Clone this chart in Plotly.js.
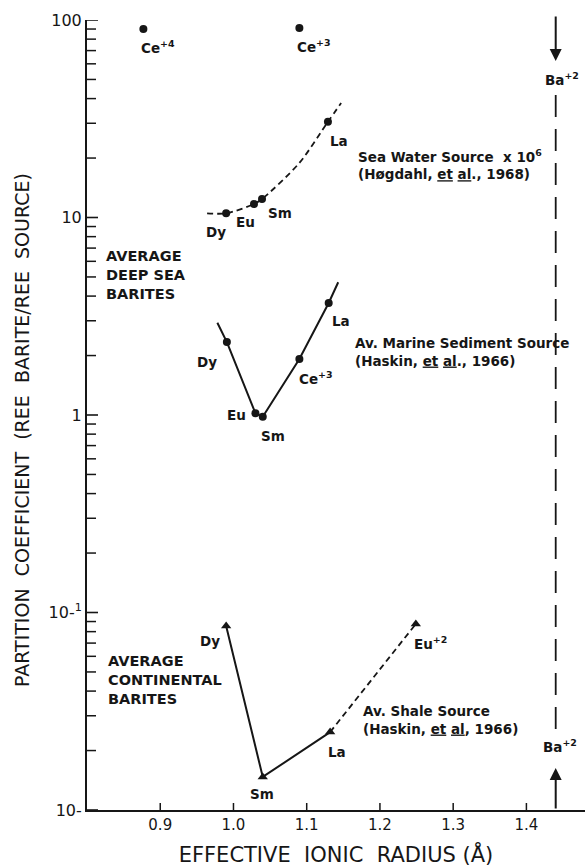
<!DOCTYPE html>
<html>
<head>
<meta charset="utf-8">
<script src="https://cdn.plot.ly/plotly-3.0.1.min.js"></script>
<style>
  html, body { margin: 0; padding: 0; background: #fff; }
  #chart { width: 588px; height: 868px; }
</style>
</head>
<body>
<div id="chart"></div>
<script>
// Rare-earth partition coefficients between barite and source, vs. effective ionic radius.

// Sea water source (x 10^6), dashed curve with dots
const seaLabels = ['Dy', 'Eu', 'Sm', 'La'];
const seaX = [0.990, 1.028, 1.039, 1.129];
const seaY = [10.5, 11.7, 12.4, 30.5];
const seaCurveX = [0.964, 0.990, 1.028, 1.039, 1.090, 1.129, 1.147];
const seaCurveY = [10.5, 10.5, 11.7, 12.4, 18.9, 30.5, 38.0];

// Cerium points above the sea water curve
const ceLabels = ['Ce<sup>+4</sup>', 'Ce<sup>+3</sup>'];
const ceX = [0.877, 1.090];
const ceY = [90, 91];

// Average marine sediment source, solid line with dots
const marLabels = ['Dy', 'Eu', 'Sm', 'Ce<sup>+3</sup>', 'La'];
const marX = [0.991, 1.030, 1.040, 1.090, 1.130];
const marY = [2.34, 1.02, 0.98, 1.92, 3.69];
const marLineX = [0.978, 0.991, 1.030, 1.040, 1.090, 1.130, 1.143];
const marLineY = [2.93, 2.34, 1.02, 0.98, 1.92, 3.69, 4.70];

// Average shale source, triangles
const shaLabels = ['Dy', 'Sm', 'La', 'Eu<sup>+2</sup>'];
const shaX = [0.990, 1.040, 1.132, 1.249];
const shaY = [0.0855, 0.0147, 0.0248, 0.0875];

// Ba+2 reference radius
const baX = 1.44;
const baLineY = [41.7, 0.024];
const baTopArrowY = 62;
const baBottomArrowY = 0.0163;

// Axis ticks
const xTicks = [0.9, 1.0, 1.1, 1.2, 1.3, 1.4];
const xTickText = ['0.9', '1.0', '1.1', '1.2', '1.3', '1.4'];
const yTicks = [0.01, 0.1, 1, 10, 100];
const yTickText = ['10-', '10-<sup>1</sup>', '1', '10', '100'];
const yMinor = [];
[0.01, 0.1, 1, 10].forEach(d => { for (let k = 2; k <= 9; k++) yMinor.push(d * k); });

const INK = '#161616';
const FONT = 'DejaVu Sans, sans-serif';
const PLOT_W = 498, PLOT_H = 790;

const traces = [
  { x: seaCurveX, y: seaCurveY, mode: 'lines', line: { color: INK, width: 1.8, dash: '6px,4px', shape: 'spline', smoothing: 0.8 } },
  { x: seaX, y: seaY, mode: 'markers', marker: { color: INK, size: 8, symbol: 'circle' } },
  { x: ceX, y: ceY, mode: 'markers', marker: { color: INK, size: 8, symbol: 'circle' } },
  { x: marLineX, y: marLineY, mode: 'lines', line: { color: INK, width: 2 } },
  { x: marX, y: marY, mode: 'markers', marker: { color: INK, size: 8, symbol: 'circle' } },
  { x: shaX.slice(0, 3), y: shaY.slice(0, 3), mode: 'lines', line: { color: INK, width: 2 } },
  { x: shaX.slice(2), y: shaY.slice(2), mode: 'lines', line: { color: INK, width: 1.8, dash: '6px,4px' } },
  { x: shaX, y: shaY, mode: 'markers', marker: { color: INK, size: 9, symbol: 'triangle-up' } },
  { x: [baX, baX], y: baLineY, mode: 'lines', line: { color: INK, width: 1.8, dash: '22px,12px' } }
].map(t => Object.assign({ showlegend: false, hoverinfo: 'skip' }, t));

// Tick marks drawn as short lines on the axes (shapes take data values on the log axis)
const shapes = [];
yTicks.forEach(v => shapes.push({
  type: 'line', xref: 'paper', yref: 'y', x0: -2 / PLOT_W, x1: 11 / PLOT_W,
  y0: v, y1: v, line: { color: INK, width: 1.6 }, layer: 'above'
}));
yMinor.forEach(v => shapes.push({
  type: 'line', xref: 'paper', yref: 'y', x0: 0, x1: 9 / PLOT_W,
  y0: v, y1: v, line: { color: INK, width: 1.5 }, layer: 'above'
}));
xTicks.forEach(v => shapes.push({
  type: 'line', xref: 'x', yref: 'paper', x0: v, x1: v,
  y0: 0, y1: 7 / PLOT_H, line: { color: INK, width: 1.5 }, layer: 'above'
}));

const annotations = [];
const LABEL_FONT = { family: FONT, size: 13.5, color: INK, weight: 'bold' };

// Point labels with pixel offsets from their marks
function pointLabels(labels, xs, ys, shifts) {
  labels.forEach((txt, i) => {
    annotations.push({
      x: xs[i], y: Math.log10(ys[i]), xref: 'x', yref: 'y', text: txt, showarrow: false,
      xshift: shifts[i][0], yshift: shifts[i][1], font: LABEL_FONT
    });
  });
}
pointLabels(ceLabels, ceX, ceY, [[15, -18], [15, -18]]);
pointLabels(seaLabels, seaX, seaY, [[-10, -19], [-8, -18], [18, -14], [11, -19]]);
pointLabels(marLabels, marX, marY, [[-20, -20], [-19, -2], [10, -19], [17, -19], [12, -18]]);
pointLabels(shaLabels, shaX, shaY, [[-16, -15], [-1, -17], [7, -20], [15, -19]]);

// Descriptive text blocks (paper coordinates)
function block(text, px, py, size) {
  annotations.push({
    x: (px - 87) / PLOT_W, y: (810 - py) / PLOT_H, xref: 'paper', yref: 'paper',
    xanchor: 'left', yanchor: 'middle', align: 'left', showarrow: false,
    text: text, font: { family: FONT, size: size, color: INK, weight: 'bold' }
  });
}
block('Sea Water Source  x 10<sup>6</sup><br>(Høgdahl, <u>et</u> <u>al</u>., 1968)', 356, 165, 13.5);
block('Av. Marine Sediment Source<br>(Haskin, <u>et</u> <u>al</u>., 1966)', 353, 352, 13.5);
block('Av. Shale Source<br>(Haskin, <u>et</u> <u>al</u>, 1966)', 361, 720, 13.5);
block('AVERAGE<br>DEEP SEA<br>BARITES', 104, 275, 14.5);
block('AVERAGE<br>CONTINENTAL<br>BARITES', 106, 680, 14.5);

// Vertical axis title
annotations.push({
  x: (22 - 87) / PLOT_W, y: (810 - 430) / PLOT_H, xref: 'paper', yref: 'paper',
  xanchor: 'center', yanchor: 'middle', textangle: -90, showarrow: false,
  text: 'PARTITION  COEFFICIENT  (REE  BARITE/REE  SOURCE)',
  font: { family: FONT, size: 19, color: INK }
});

// Ba+2 arrows and labels
annotations.push({
  x: baX, y: Math.log10(baTopArrowY), xref: 'x', yref: 'y', text: '', showarrow: true,
  ax: 0, ay: -46, arrowhead: 2, arrowsize: 1.2, arrowwidth: 2, arrowcolor: INK
});
annotations.push({
  x: baX, y: Math.log10(baBottomArrowY), xref: 'x', yref: 'y', text: '', showarrow: true,
  ax: 0, ay: 42, arrowhead: 2, arrowsize: 1.2, arrowwidth: 2, arrowcolor: INK
});
annotations.push({
  x: baX, y: Math.log10(baTopArrowY), xref: 'x', yref: 'y', text: 'Ba<sup>+2</sup>', showarrow: false,
  xshift: 6, yshift: -18, font: LABEL_FONT
});
annotations.push({
  x: baX, y: Math.log10(baBottomArrowY), xref: 'x', yref: 'y', text: 'Ba<sup>+2</sup>', showarrow: false,
  xshift: 4, yshift: 22, font: LABEL_FONT
});

const layout = {
  width: 588, height: 868,
  margin: { l: 87, r: 3, t: 20, b: 58 },
  paper_bgcolor: '#fff', plot_bgcolor: '#fff',
  font: { family: FONT, color: INK },
  xaxis: {
    range: [0.8, 1.48], showgrid: false, zeroline: false,
    showline: true, linecolor: INK, linewidth: 2,
    tickmode: 'array', tickvals: xTicks, ticktext: xTickText, ticks: '',
    tickfont: { family: FONT, size: 15, color: INK },
    title: { text: 'EFFECTIVE  IONIC  RADIUS (Å)', font: { family: FONT, size: 21, color: INK }, standoff: 14 }
  },
  yaxis: {
    type: 'log', range: [-2, 2], showgrid: false, zeroline: false,
    showline: true, linecolor: INK, linewidth: 2,
    tickmode: 'array', tickvals: yTicks, ticktext: yTickText, ticks: '',
    tickfont: { family: FONT, size: 16, color: INK }
  },
  shapes: shapes,
  annotations: annotations
};

Plotly.newPlot('chart', traces, layout, { staticPlot: true, displayModeBar: false });
</script>
</body>
</html>
